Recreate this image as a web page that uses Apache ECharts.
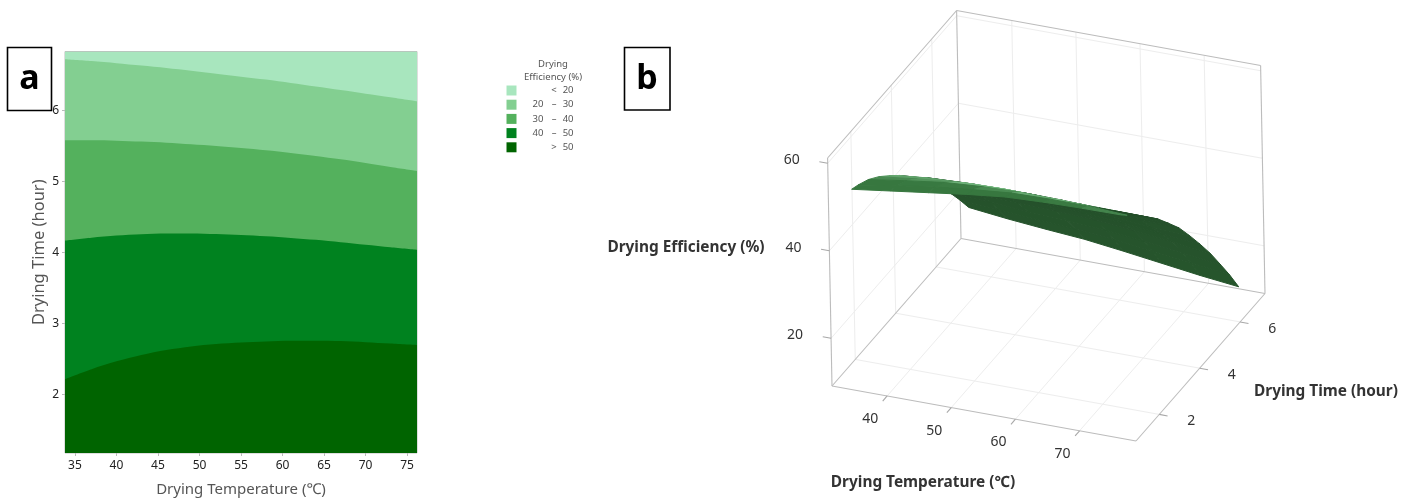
<!DOCTYPE html>
<html>
<head>
<meta charset="utf-8">
<style>html,body{margin:0;padding:0;background:#fff}#c{width:1416px;height:502px}</style>
<script src="https://cdn.jsdelivr.net/npm/echarts@6/dist/echarts.min.js"></script>
</head>
<body>
<div id="c"></div>
<script>
// ---- Panel a: contour band boundaries (drying time at which each level is crossed)
const boundaryTemps = [33.8, 37, 40, 43, 46, 49, 52, 55, 58, 61, 64, 67, 70, 73, 76.2];
const topLimit   = [6.83, 6.83, 6.83, 6.83, 6.83, 6.83, 6.83, 6.83, 6.83, 6.83, 6.83, 6.83, 6.83, 6.83, 6.83];
const level20    = [6.72, 6.695, 6.665, 6.632, 6.597, 6.558, 6.517, 6.476, 6.435, 6.387, 6.337, 6.287, 6.237, 6.187, 6.13];
const level30    = [5.58, 5.58, 5.575, 5.562, 5.547, 5.525, 5.50, 5.472, 5.44, 5.402, 5.36, 5.312, 5.26, 5.206, 5.15];
const level40    = [4.17, 4.21, 4.24, 4.258, 4.27, 4.27, 4.262, 4.248, 4.23, 4.207, 4.18, 4.147, 4.11, 4.075, 4.04];
const level50    = [2.22, 2.36, 2.47, 2.56, 2.63, 2.68, 2.715, 2.735, 2.75, 2.758, 2.76, 2.755, 2.74, 2.72, 2.70];
const bandNames  = ['< 20', '20 - 30', '30 - 40', '40 - 50', '> 50'];
const bandColors = ['#a8e6be', '#83cf91', '#54b15d', '#00821f', '#006400'];
const ticksTempA = [35, 40, 45, 50, 55, 60, 65, 70, 75];
const ticksTimeA = [2, 3, 4, 5, 6];

// ---- Panel b: response surface, efficiency by time (rows) and temperature (columns)
const surfTemps = [34, 40, 46, 52, 58, 64, 70, 76];
const surfTimes = [1.18, 1.5, 2, 2.5, 3, 3.5, 4, 4.5, 5, 5.5, 6, 6.4, 6.83];
const eff118 = [53.0, 54.2, 55.4, 56.6, 57.6, 58.0, 58.2, 58.3];
const eff150 = [52.3, 53.7, 55.0, 56.0, 56.8, 57.0, 57.0, 56.5];
const eff200 = [50.9, 52.2, 53.4, 54.0, 54.3, 54.2, 53.9, 53.8];
const eff250 = [48.9, 50.0, 50.8, 51.2, 51.2, 50.9, 50.8, 50.8];
const eff300 = [46.5, 47.6, 48.0, 48.2, 48.0, 47.9, 47.8, 47.7];
const eff350 = [43.9, 44.6, 45.0, 45.1, 44.8, 44.5, 44.2, 44.1];
const eff400 = [41.0, 41.5, 41.7, 41.7, 41.4, 41.0, 40.6, 40.4];
const eff450 = [37.9, 38.1, 38.2, 38.0, 37.7, 37.0, 36.4, 36.0];
const eff500 = [34.5, 34.5, 34.4, 34.2, 33.7, 33.0, 32.2, 31.4];
const eff550 = [30.6, 30.6, 30.3, 30.0, 29.5, 28.7, 27.8, 26.6];
const eff600 = [26.5, 26.2, 25.6, 25.2, 24.6, 23.6, 22.6, 21.3];
const eff640 = [23.0, 22.4, 21.7, 21.1, 20.3, 19.3, 18.2, 17.0];
const eff683 = [19.0, 18.0, 17.2, 16.5, 15.4, 14.2, 13.0, 12.0];
const surfEff = [eff118, eff150, eff200, eff250, eff300, eff350, eff400, eff450, eff500, eff550, eff600, eff640, eff683];
const ticksTempB = [40, 50, 60, 70];
const ticksTimeB = [2, 4, 6];
const ticksEffB  = [20, 40, 60];

// ---- Layout / projection of the 3D box
const TR = [31.4, 78.8], HR = [0.85, 7.23], ZR = [9.1, 61.2];
const O = [832, 386], AT = [304, 55], AH = [129, -147.5], AZ = [-4.4, -228];
const viewDir = [
  AH[0]*AZ[1]-AZ[0]*AH[1],
  AZ[0]*AT[1]-AT[0]*AZ[1],
  AT[0]*AH[1]-AH[0]*AT[1]
];
function norm(T,H,Z){return [(T-TR[0])/(TR[1]-TR[0]),(H-HR[0])/(HR[1]-HR[0]),(Z-ZR[0])/(ZR[1]-ZR[0])];}
function project(T,H,Z){
  const n=norm(T,H,Z);
  return [O[0]+AT[0]*n[0]+AH[0]*n[1]+AZ[0]*n[2], O[1]+AT[1]*n[0]+AH[1]*n[1]+AZ[1]*n[2]];
}
function depth(T,H,Z){const n=norm(T,H,Z);return n[0]*viewDir[0]+n[1]*viewDir[1]+n[2]*viewDir[2];}

// frame segments: T1,H1,Z1,T2,H2,Z2,kind (0 edge, 1 grid, 2 tick)
const segs=[];
const [t0,t1]=TR,[h0,h1]=HR,[z0,z1]=ZR;
function seg(a,b,k){segs.push([a[0],a[1],a[2],b[0],b[1],b[2],k]);}
ticksTempB.forEach(T=>{
  seg([T,h0,z0],[T,h1,z0],1);
  seg([T,h1,z0],[T,h1,z1],1);
});
ticksTimeB.forEach(H=>{
  seg([t0,H,z0],[t1,H,z0],1);
  seg([t0,H,z0],[t0,H,z1],1);
});
ticksEffB.forEach(Z=>{
  seg([t0,h0,Z],[t0,h1,Z],1);
  seg([t0,h1,Z],[t1,h1,Z],1);
});
seg([t0,h0,z0],[t1,h0,z0],0);
seg([t1,h0,z0],[t1,h1,z0],0);
seg([t0,h0,z0],[t0,h1,z0],0);
seg([t0,h1,z0],[t1,h1,z0],0);
seg([t0,h0,z0],[t0,h0,z1],0);
seg([t0,h1,z0],[t0,h1,z1],0);
seg([t1,h1,z0],[t1,h1,z1],0);
seg([t0,h0,z1],[t0,h1,z1],0);
seg([t0,h1,z1],[t1,h1,z1],0);
ticksTempB.forEach(T=>seg([T,h0,z0],[T,h0-0.22,z0],2));
ticksTimeB.forEach(H=>seg([t1,H,z0],[t1+1.3,H,z0],2));
ticksEffB.forEach(Z=>seg([t0,h0,Z],[t0-1.3,h0,Z],2));

// surface quads, far to near
const quads=[];
for(let r=0;r<surfTimes.length-1;r++)for(let c=0;c<surfTemps.length-1;c++){
  const d=depth((surfTemps[c]+surfTemps[c+1])/2,(surfTimes[r]+surfTimes[r+1])/2,(surfEff[r][c]+surfEff[r+1][c+1])/2);
  quads.push([r,c,d]);
}
quads.sort((a,b)=>b[2]-a[2]);

function mix(a,b,f){
  const p=s=>[1,3,5].map(i=>parseInt(s.substr(i,2),16));
  const A=p(a),B=p(b);f=Math.max(0,Math.min(1,f));
  return 'rgb('+A.map((v,i)=>Math.round(v+(B[i]-v)*f)).join(',')+')';
}
function quadColor(r,c){
  const a=norm(surfTemps[c],surfTimes[r],surfEff[r][c]);
  const b=norm(surfTemps[c+1],surfTimes[r],surfEff[r][c+1]);
  const e=norm(surfTemps[c],surfTimes[r+1],surfEff[r+1][c]);
  const u=[b[0]-a[0],b[1]-a[1],b[2]-a[2]],v=[e[0]-a[0],e[1]-a[1],e[2]-a[2]];
  const n=[u[1]*v[2]-u[2]*v[1],u[2]*v[0]-u[0]*v[2],u[0]*v[1]-u[1]*v[0]];
  const len=Math.hypot(n[0],n[1],n[2])||1;
  const m=n.map(x=>x/len);
  const facing=m[0]*viewDir[0]+m[1]*viewDir[1]+m[2]*viewDir[2];
  if(facing<0 && !(c===surfTemps.length-2 && r>=1)){
    const f=Math.max(0,Math.min(1,(m[1]-0.3)/0.25));
    return mix('#37773f','#74b87f',f*f);
  }
  return mix('#234e29','#295a2f',(m[1]-0.6)/0.4);
}

const option={
  animation:false,
  backgroundColor:'#fff',
  textStyle:{fontFamily:'"Noto Sans","Open Sans",sans-serif'},
  grid:[
    {left:65,top:51.5,width:352,height:402.5,show:true,borderColor:'#bdbdbd',borderWidth:1,backgroundColor:'transparent'},
    {left:0,top:0,width:1416,height:502,show:false}
  ],
  xAxis:[
    {type:'value',gridIndex:0,min:33.8,max:76.2,
     name:'Drying Temperature (℃)',nameLocation:'middle',nameGap:29,
     nameTextStyle:{fontSize:15,color:'#555',fontFamily:'"Noto Sans",sans-serif'},
     axisLine:{show:false},splitLine:{show:false},
     axisTick:{show:true,length:3,lineStyle:{color:'#bbb'},customValues:ticksTempA},
     axisLabel:{color:'#222',fontSize:12,margin:7,customValues:ticksTempA}},
    {type:'value',gridIndex:1,min:0,max:1416,show:false}
  ],
  yAxis:[
    {type:'value',gridIndex:0,min:1.18,max:6.83,
     name:'Drying Time (hour)',nameLocation:'middle',nameGap:17,
     nameTextStyle:{fontSize:16.5,color:'#555',fontFamily:'"Noto Sans",sans-serif'},
     axisLine:{show:false},splitLine:{show:false},
     axisTick:{show:true,length:3,lineStyle:{color:'#bbb'},customValues:ticksTimeA},
     axisLabel:{color:'#222',fontSize:12,margin:6,customValues:ticksTimeA}},
    {type:'value',gridIndex:1,min:0,max:502,inverse:true,show:false}
  ],
  legend:{
    left:506.5,top:85.5,padding:0,orient:'vertical',icon:'rect',itemWidth:10,itemHeight:10,itemGap:4.2,
    selectedMode:false,data:bandNames,
    formatter:function(n){
      const p=n.split(' ');
      if(p.length===2) return '{l|}{m|'+p[0]+'}{h|'+p[1]+'}';
      return '{l|'+p[0]+'}{m|–}{h|'+p[2]+'}';
    },
    textStyle:{color:'#555',fontSize:9.5,rich:{
      l:{width:14,padding:[0,0,0,11],align:'left',fontSize:9.5,color:'#555'},
      m:{width:15,align:'center',fontSize:9.5,color:'#555'},
      h:{width:12,align:'right',fontSize:9.5,color:'#555'}
    }}
  },
  series:[
    ...[topLimit,level20,level30,level40,level50].map((vals,i)=>({
      name:bandNames[i],type:'line',xAxisIndex:0,yAxisIndex:0,smooth:0.3,symbol:'none',silent:true,
      data:boundaryTemps.map((t,k)=>[t,vals[k]]),
      lineStyle:{width:0},itemStyle:{color:bandColors[i]},
      areaStyle:{color:bandColors[i],opacity:1,origin:'start'},z:2
    })),
    {
      type:'custom',xAxisIndex:1,yAxisIndex:1,silent:true,z:3,progressive:0,
      data:segs,
      renderItem:function(p,api){
        const a=api.coord(project(api.value(0),api.value(1),api.value(2)));
        const b=api.coord(project(api.value(3),api.value(4),api.value(5)));
        const k=api.value(6);
        return {type:'line',shape:{x1:a[0],y1:a[1],x2:b[0],y2:b[1]},
          style:{stroke:['#bcbcbc','#ededed','#a8a8a8'][k],lineWidth:k===1?1:1.1}};
      }
    },
    {
      type:'custom',xAxisIndex:1,yAxisIndex:1,silent:true,z:4,progressive:0,
      data:quads,
      renderItem:function(p,api){
        const r=api.value(0),c=api.value(1);
        const pts=[[r,c],[r,c+1],[r+1,c+1],[r+1,c]].map(q=>api.coord(project(surfTemps[q[1]],surfTimes[q[0]],surfEff[q[0]][q[1]])));
        const col=quadColor(r,c);
        return {type:'polygon',shape:{points:pts},style:{fill:col,stroke:col,lineWidth:1}};
      }
    },
    {
      type:'custom',xAxisIndex:1,yAxisIndex:1,silent:true,z:5,progressive:0,
      data:[
        ...ticksTempB.map(v=>[v,h0,z0,-17,23]),
        ...ticksTimeB.map(v=>[t1,v,z0,32,7]),
        ...ticksEffB.map(v=>[t0,h0,v,-36,-3])
      ],
      renderItem:function(p,api){
        const a=api.coord(project(api.value(0),api.value(1),api.value(2)));
        const ox=api.value(3),oy=api.value(4);
        const txt=ox===-17?api.value(0):(ox===32?api.value(1):api.value(2));
        return {type:'text',x:a[0]+ox,y:a[1]+oy,
          style:{text:String(txt),align:'center',verticalAlign:'middle',fill:'#333',fontSize:14,fontFamily:'"Noto Sans",sans-serif'}};
      }
    }
  ],
  graphic:[
    {type:'rect',shape:{x:7.5,y:47.5,width:44,height:63},style:{fill:'#fff',stroke:'#000',lineWidth:1.6},z:20},
    {type:'text',x:29.5,y:79,style:{text:'a',fontSize:34,fontWeight:'bold',fill:'#000',align:'center',verticalAlign:'middle',fontFamily:'"Noto Sans",sans-serif'},z:21},
    {type:'rect',shape:{x:624.5,y:47.5,width:45.5,height:62.5},style:{fill:'#fff',stroke:'#000',lineWidth:1.6},z:20},
    {type:'text',x:647,y:79,style:{text:'b',fontSize:34,fontWeight:'bold',fill:'#000',align:'center',verticalAlign:'middle',fontFamily:'"Noto Sans",sans-serif'},z:21},
    {type:'text',x:553,y:64,style:{text:'Drying',fontSize:9.5,fill:'#555',align:'center',verticalAlign:'middle',fontFamily:'"Noto Sans",sans-serif'}},
    {type:'text',x:553,y:77,style:{text:'Efficiency (%)',fontSize:9.5,fill:'#555',align:'center',verticalAlign:'middle',fontFamily:'"Noto Sans",sans-serif'}},
    {type:'text',x:686,y:248,style:{text:'Drying Efficiency (%)',fontSize:15.4,fontWeight:'bold',fill:'#333',align:'center',verticalAlign:'middle',fontFamily:'"Noto Sans",sans-serif'}},
    {type:'text',x:1326,y:392,style:{text:'Drying Time (hour)',fontSize:15.4,fontWeight:'bold',fill:'#333',align:'center',verticalAlign:'middle',fontFamily:'"Noto Sans",sans-serif'}},
    {type:'text',x:923,y:483,style:{text:'Drying Temperature (℃)',fontSize:15.4,fontWeight:'bold',fill:'#333',align:'center',verticalAlign:'middle',fontFamily:'"Noto Sans",sans-serif'}}
  ]
};
echarts.init(document.getElementById('c')).setOption(option);
</script>
</body>
</html>
